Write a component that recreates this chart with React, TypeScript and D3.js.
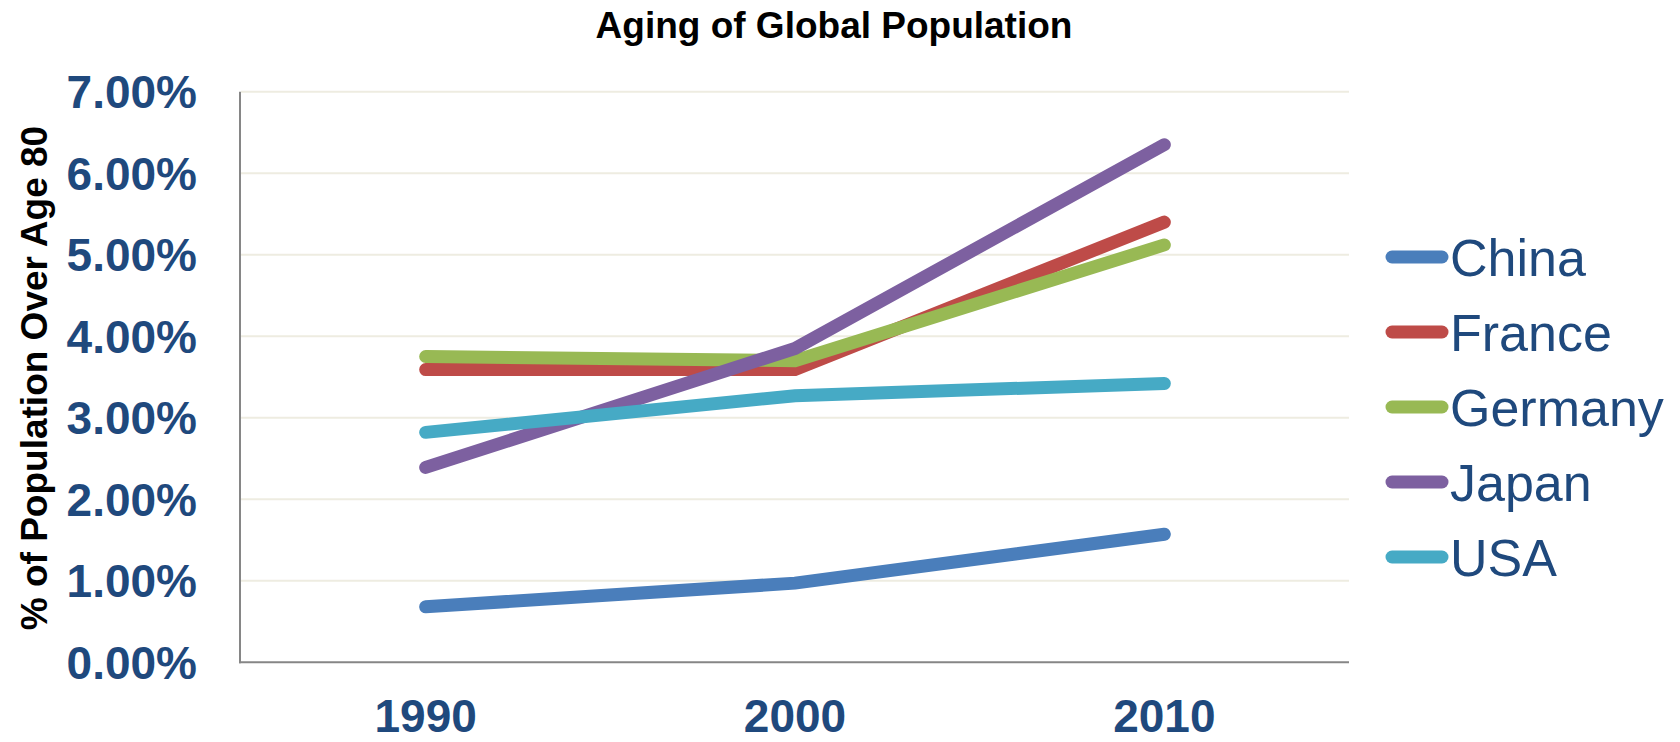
import React, { useEffect } from "react";
import * as d3 from "d3";

// Share of population aged over 80, by country and census year
const years = ["1990", "2000", "2010"];
const countries = ["China", "France", "Germany", "Japan", "USA"];
const china = [0.68, 0.97, 1.57];
const france = [3.59, 3.59, 5.4];
const germany = [3.75, 3.7, 5.12];
const japan = [2.39, 3.85, 6.35];
const usa = [2.82, 3.27, 3.42];
const seriesValues = [china, france, germany, japan, usa];
const colors = ["#4A7EBB", "#BE4B48", "#98B954", "#7D60A0", "#46AAC5"];
const yTicks = [0, 1, 2, 3, 4, 5, 6, 7];

const W = 1680;
const H = 742;
const FONT = "'Liberation Sans', Arial, Helvetica, sans-serif";
const LABEL_BLUE = "#1F497D";

export default function App() {
  useEffect(() => {
    document.body.style.margin = "0";
  }, []);

  const plot = { left: 241, right: 1349, top: 91.7, bottom: 662.2 };

  const x = d3
    .scaleBand<string>()
    .domain(years)
    .range([plot.left, plot.right])
    .padding(0);
  const y = d3.scaleLinear().domain([0, 7]).range([plot.bottom, plot.top]);
  const cx = (yr: string) => (x(yr) as number) + x.bandwidth() / 2;

  const line = d3
    .line<number>()
    .x((_, i) => cx(years[i]))
    .y((v) => y(v));

  const legendX = 1392;
  const legendY0 = 257;
  const legendStep = 75;

  return (
    <svg
      width={W}
      height={H}
      viewBox={`0 0 ${W} ${H}`}
      style={{ display: "block", background: "#fff" }}
    >
      <rect width={W} height={H} fill="#fff" />
      {/* title */}
      <text
        x={834}
        y={37.5}
        textAnchor="middle"
        fontFamily={FONT}
        fontWeight="bold"
        fontSize={37}
        fill="#000"
      >
        Aging of Global Population
      </text>

      {/* horizontal gridlines */}
      {yTicks.slice(1).map((t) => (
        <line
          key={`g${t}`}
          x1={plot.left}
          x2={plot.right}
          y1={y(t)}
          y2={y(t)}
          stroke="#EEECE1"
          strokeWidth={2}
        />
      ))}

      {/* axes */}
      <line
        x1={plot.left - 1}
        x2={plot.left - 1}
        y1={plot.top}
        y2={plot.bottom + 1}
        stroke="#868686"
        strokeWidth={2}
      />
      <line
        x1={plot.left - 2}
        x2={plot.right}
        y1={plot.bottom}
        y2={plot.bottom}
        stroke="#868686"
        strokeWidth={2}
      />

      {/* y tick labels */}
      {yTicks.map((t) => (
        <text
          key={`yt${t}`}
          x={197}
          y={y(t)}
          dy={16.5}
          textAnchor="end"
          fontFamily={FONT}
          fontWeight="bold"
          fontSize={46}
          fill={LABEL_BLUE}
        >
          {d3.format(".2f")(t) + "%"}
        </text>
      ))}

      {/* x tick labels */}
      {years.map((yr) => (
        <text
          key={`xt${yr}`}
          x={cx(yr)}
          y={732}
          textAnchor="middle"
          fontFamily={FONT}
          fontWeight="bold"
          fontSize={46}
          fill={LABEL_BLUE}
        >
          {yr}
        </text>
      ))}

      {/* y axis title */}
      <text
        transform={`translate(47, 378) rotate(-90)`}
        textAnchor="middle"
        fontFamily={FONT}
        fontWeight="bold"
        fontSize={37}
        fill="#000"
      >
        % of Population Over Age 80
      </text>

      {/* series lines */}
      {seriesValues.map((vals, i) => (
        <path
          key={countries[i]}
          d={line(vals) || ""}
          fill="none"
          stroke={colors[i]}
          strokeWidth={13}
          strokeLinecap="round"
          strokeLinejoin="miter"
        />
      ))}

      {/* legend */}
      {countries.map((c, i) => {
        const ly = legendY0 + i * legendStep;
        return (
          <g key={`lg${c}`}>
            <line
              x1={legendX}
              x2={legendX + 50}
              y1={ly}
              y2={ly}
              stroke={colors[i]}
              strokeWidth={13}
              strokeLinecap="round"
            />
            <text
              x={legendX + 58}
              y={ly + 18.5}
              fontFamily={FONT}
              fontSize={52}
              fill={LABEL_BLUE}
            >
              {c}
            </text>
          </g>
        );
      })}
    </svg>
  );
}
